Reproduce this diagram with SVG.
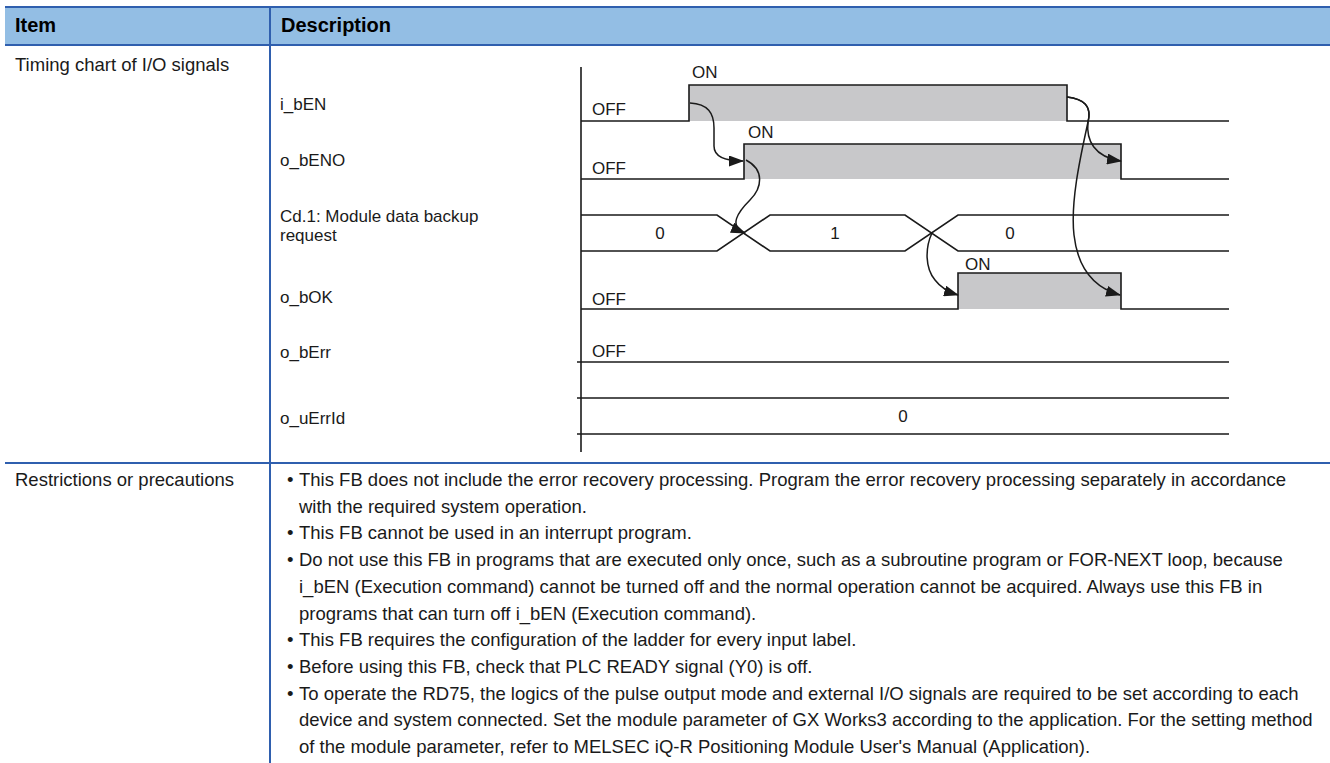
<svg xmlns="http://www.w3.org/2000/svg" width="1330" height="763" viewBox="0 0 1330 763">
  <style>
    .hdr { font-family: "Liberation Sans", Arial, sans-serif; font-size: 20px; font-weight: bold; fill: #000; }
    .body { font-family: "Liberation Sans", Arial, sans-serif; font-size: 18.5px; fill: #1a1a1a; }
    .lbl { font-family: "Liberation Sans", Arial, sans-serif; font-size: 17px; fill: #1a1a1a; }
    .mid { text-anchor: middle; }
    .grid { stroke: #2f5fae; stroke-width: 2; fill: none; }
    .wave { stroke: #1a1a1a; stroke-width: 1.6; fill: none; }
    .on { fill: #c8c8ca; stroke: none; }
    .arc { stroke: #1a1a1a; stroke-width: 1.5; fill: none; marker-end: url(#tip); }
  </style>
  <defs>
    <marker id="tip" markerUnits="userSpaceOnUse" markerWidth="15" markerHeight="11" refX="14" refY="5.5" orient="auto">
      <path d="M0,0 L15,5.5 L0,11 z" fill="#1a1a1a"/>
    </marker>
  </defs>

  <rect width="1330" height="763" fill="#ffffff"/>

  <!-- table frame -->
  <g id="table">
    <rect x="5" y="7" width="1325" height="38" fill="#93bee4"/>
    <line class="grid" x1="5" y1="7" x2="1330" y2="7"/>
    <line class="grid" x1="5" y1="45" x2="1330" y2="45"/>
    <line class="grid" x1="5" y1="463" x2="1330" y2="463"/>
    <line class="grid" x1="270" y1="7" x2="270" y2="763"/>
    <text class="hdr" x="15" y="32">Item</text>
    <text class="hdr" x="281" y="32">Description</text>
    <text class="body" x="15" y="71">Timing chart of I/O signals</text>
    <text class="body" x="15" y="486">Restrictions or precautions</text>
  </g>

  <!-- signal names -->
  <g id="signal-names">
    <text class="lbl" x="280" y="110">i_bEN</text>
    <text class="lbl" x="280" y="166">o_bENO</text>
    <text class="lbl" x="280" y="222">Cd.1: Module data backup</text>
    <text class="lbl" x="280" y="241">request</text>
    <text class="lbl" x="280" y="303">o_bOK</text>
    <text class="lbl" x="280" y="358">o_bErr</text>
    <text class="lbl" x="280" y="424">o_uErrId</text>
  </g>

  <!-- time axis -->
  <line class="wave" x1="581" y1="67" x2="581" y2="452"/>

  <g id="i_bEN">
    <rect class="on" x="689" y="85" width="378" height="36"/>
    <path class="wave" d="M581,121 H689 V85 H1067 V121 H1229"/>
    <text class="lbl" x="692" y="78">ON</text>
    <text class="lbl" x="592" y="115">OFF</text>
  </g>

  <g id="o_bENO">
    <rect class="on" x="744" y="144" width="377" height="35"/>
    <path class="wave" d="M581,179 H744 V144 H1121 V179 H1229"/>
    <text class="lbl" x="748" y="138">ON</text>
    <text class="lbl" x="592" y="174">OFF</text>
  </g>

  <g id="cd1-backup-request">
    <path class="wave" d="M581,215 H717 L770,251 H905 L958,215 H1229"/>
    <path class="wave" d="M581,251 H717 L770,215 H905 L958,251 H1229"/>
    <text class="lbl mid" x="660" y="239">0</text>
    <text class="lbl mid" x="835" y="239">1</text>
    <text class="lbl mid" x="1010" y="239">0</text>
  </g>

  <g id="o_bOK">
    <rect class="on" x="958" y="273" width="163" height="36"/>
    <path class="wave" d="M581,309 H958 V273 H1121 V309 H1229"/>
    <text class="lbl" x="965" y="270">ON</text>
    <text class="lbl" x="592" y="305">OFF</text>
  </g>

  <g id="o_bErr">
    <path class="wave" d="M577,362 H1229"/>
    <text class="lbl" x="592" y="357">OFF</text>
  </g>

  <g id="o_uErrId">
    <path class="wave" d="M577,398 H1229 M577,434 H1229"/>
    <text class="lbl mid" x="903" y="422">0</text>
  </g>

  <!-- cause/effect connectors -->
  <g id="connectors">
    <path class="arc" d="M690,103 C708,104 714,113 714,128 L714,146 C714,156 724,161 743,161"/>
    <path class="arc" d="M746,160 C765,170 762,188 750,200 C738,212 728,226 745,233"/>
    <path class="arc" d="M1067,97 C1084,99 1092,106 1088,122 C1086,140 1094,157 1121,161"/>
    <path class="arc" d="M1067,97 C1084,99 1092,106 1088,122 C1082,150 1070,200 1074,235 C1078,270 1095,288 1120,295"/>
    <path class="arc" d="M932,233 C925,248 925,268 935,280 C941,288 948,292 958,295"/>
  </g>

  <!-- precautions -->
  <g id="precautions" class="body">
    <text x="287" y="486">•</text><text x="299" y="486">This FB does not include the error recovery processing. Program the error recovery processing separately in accordance</text>
    <text x="299" y="512.7">with the required system operation.</text>
    <text x="287" y="539.4">•</text><text x="299" y="539.4">This FB cannot be used in an interrupt program.</text>
    <text x="287" y="566.1">•</text><text x="299" y="566.1">Do not use this FB in programs that are executed only once, such as a subroutine program or FOR-NEXT loop, because</text>
    <text x="299" y="592.8">i_bEN (Execution command) cannot be turned off and the normal operation cannot be acquired. Always use this FB in</text>
    <text x="299" y="619.5">programs that can turn off i_bEN (Execution command).</text>
    <text x="287" y="646.2">•</text><text x="299" y="646.2">This FB requires the configuration of the ladder for every input label.</text>
    <text x="287" y="672.9">•</text><text x="299" y="672.9">Before using this FB, check that PLC READY signal (Y0) is off.</text>
    <text x="287" y="699.6">•</text><text x="299" y="699.6">To operate the RD75, the logics of the pulse output mode and external I/O signals are required to be set according to each</text>
    <text x="299" y="726.3">device and system connected. Set the module parameter of GX Works3 according to the application. For the setting method</text>
    <text x="299" y="753">of the module parameter, refer to MELSEC iQ-R Positioning Module User's Manual (Application).</text>
  </g>
</svg>
